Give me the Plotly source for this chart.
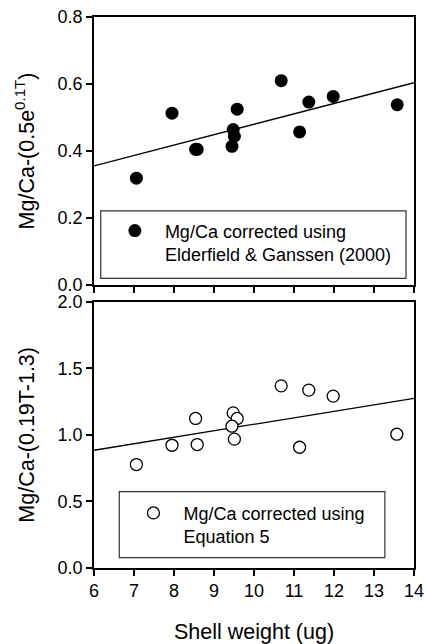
import numpy as np
import plotly.graph_objects as go

# Shell weight (ug)
weight_top = [7.06, 7.95, 8.54, 8.58, 9.48, 9.58, 9.45, 9.51, 10.68, 11.14, 11.37, 11.98, 13.58]
mgca_eg = [0.319, 0.513, 0.405, 0.405, 0.464, 0.525, 0.414, 0.444, 0.610, 0.457, 0.546, 0.563, 0.538]

weight_bot = [7.06, 7.95, 8.54, 8.58, 9.48, 9.58, 9.45, 9.51, 10.68, 11.14, 11.37, 11.98, 13.57]
mgca_eq5 = [0.777, 0.922, 1.123, 0.927, 1.165, 1.123, 1.065, 0.968, 1.368, 0.907, 1.336, 1.291, 1.005]

x_range = [6, 14]
x_ticks = [6, 7, 8, 9, 10, 11, 12, 13, 14]

FONT = "Liberation Sans, Arial, sans-serif"

def fit_line(x, y):
    m, b = np.polyfit(x, y, 1)
    xs = np.array(x_range, dtype=float)
    return xs, m * xs + b

fx1, fy1 = fit_line(weight_top, mgca_eg)
fx2, fy2 = fit_line(weight_bot, mgca_eq5)

fig = go.Figure()
fig.add_trace(go.Scatter(x=fx1, y=fy1, mode="lines", line=dict(color="black", width=1.3),
                         xaxis="x", yaxis="y", showlegend=False, hoverinfo="skip"))
fig.add_trace(go.Scatter(x=weight_top, y=mgca_eg, mode="markers",
                         marker=dict(symbol="circle", size=13, color="black"),
                         name="Mg/Ca corrected using<br>Elderfield & Ganssen (2000)",
                         xaxis="x", yaxis="y", legend="legend"))
fig.add_trace(go.Scatter(x=fx2, y=fy2, mode="lines", line=dict(color="black", width=1.3),
                         xaxis="x2", yaxis="y2", showlegend=False, hoverinfo="skip"))
fig.add_trace(go.Scatter(x=weight_bot, y=mgca_eq5, mode="markers",
                         marker=dict(symbol="circle", size=12, color="white",
                                     line=dict(color="black", width=1.3)),
                         name="Mg/Ca corrected using<br>Equation 5",
                         xaxis="x2", yaxis="y2", legend="legend2"))

axis_common = dict(showline=True, mirror=True, linecolor="black", linewidth=1.5,
                   ticks="outside", ticklen=6, tickwidth=1.5, tickcolor="black",
                   showgrid=False, zeroline=False, ticklabeloverflow="allow",
                   automargin=False,
                   tickfont=dict(family=FONT, size=18, color="black"))

fig.update_layout(
    template="none",
    width=424, height=644,
    margin=dict(l=94, r=10, t=17, b=76, autoexpand=False),
    paper_bgcolor="white", plot_bgcolor="white",
    font=dict(family=FONT, color="black"),
    xaxis=dict(domain=[0, 1], range=x_range, tickvals=x_ticks, showticklabels=False,
               anchor="y", **axis_common),
    yaxis=dict(domain=[0.5136, 1], range=[0, 0.8], dtick=0.2, tickformat=".1f",
               anchor="x",
               title=dict(text="Mg/Ca-(0.5e<sup>0.1T</sup>)",
                          font=dict(family=FONT, size=21.5, color="black"), standoff=17),
               **axis_common),
    xaxis2=dict(domain=[0, 1], range=x_range, tickvals=x_ticks, anchor="y2",
                title=dict(text="Shell weight (ug)",
                           font=dict(family=FONT, size=21.5, color="black"), standoff=25),
                **axis_common),
    yaxis2=dict(domain=[0, 0.4833], range=[0, 2], dtick=0.5, tickformat=".1f",
                anchor="x2",
                title=dict(text="Mg/Ca-(0.19T-1.3)",
                           font=dict(family=FONT, size=21.5, color="black"), standoff=17),
                **axis_common),
    legend=dict(x=0.034, y=0.6455, xanchor="left", yanchor="top", xref="paper", yref="paper",
                bgcolor="rgba(0,0,0,0)", borderwidth=0, itemwidth=50, valign="top",
                font=dict(family=FONT, size=18, color="black")),
    legend2=dict(x=0.092, y=0.133, xanchor="left", yanchor="top", xref="paper", yref="paper",
                 bgcolor="rgba(0,0,0,0)", borderwidth=0, itemwidth=50, valign="top",
                 font=dict(family=FONT, size=18, color="black")),
    shapes=[
        dict(type="rect", xref="paper", yref="paper", x0=0.021, x1=0.975, y0=0.5258, y1=0.648,
             line=dict(color="#333", width=1.2), fillcolor="rgba(0,0,0,0)"),
        dict(type="rect", xref="paper", yref="paper", x0=0.079, x1=0.909, y0=0.0187, y1=0.1385,
             line=dict(color="#333", width=1.2), fillcolor="rgba(0,0,0,0)"),
    ],
)

fig.write_html("out.html", config={"displayModeBar": False},
               post_script="document.body.style.margin='0';document.body.style.overflow='hidden';")
